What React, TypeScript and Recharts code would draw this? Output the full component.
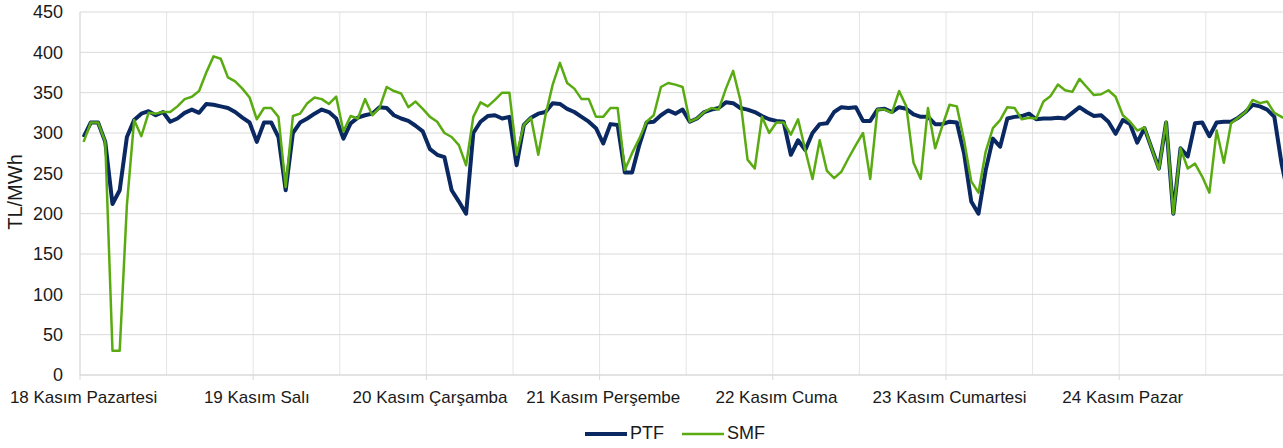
import React from 'react';
import { LineChart, Line, XAxis, YAxis, CartesianGrid } from 'recharts';

const dayLabels = [
  '18 Kasım Pazartesi',
  '19 Kasım Salı',
  '20 Kasım Çarşamba',
  '21 Kasım Perşembe',
  '22 Kasım Cuma',
  '23 Kasım Cumartesi',
  '24 Kasım Pazar',
];

// Hourly PTF values, 18-24 Kasım (TL/MWh)
const ptf = [
  295, 313, 313, 289, 212, 229, 295, 316, 324, 327, 322, 326, 314, 318, 325, 329, 325, 336, 335, 333, 331, 326, 319, 313,
  289, 313, 313, 295, 229, 300, 313, 318, 324, 329, 326, 318, 293, 312, 319, 322, 324, 332, 331, 322, 318, 315, 309, 302,
  280, 273, 270, 229, 215, 200, 300, 314, 321, 322, 318, 320, 260, 310, 319, 324, 326, 337, 336, 330, 326, 320, 314, 306,
  287, 311, 310, 251, 251, 285, 313, 314, 322, 328, 324, 329, 314, 318, 326, 329, 331, 338, 337, 331, 329, 326, 321, 317,
  315, 314, 273, 291, 279, 300, 311, 312, 326, 332, 331, 332, 315, 315, 329, 330, 326, 332, 330, 323, 320, 320, 311, 311,
  314, 313, 275, 215, 200, 254, 293, 283, 318, 320, 321, 324, 317, 318, 318, 319, 318, 325, 332, 326, 321, 322, 314, 299,
  316, 311, 288, 306, 281, 256, 313, 200, 281, 271, 312, 313, 296, 313, 314, 314, 319, 326, 335, 333, 329, 320, 262, 220,
];

// Hourly SMF values, 18-24 Kasım (TL/MWh)
const smf = [
  289, 313, 313, 289, 30, 30, 211, 316, 296, 325, 324, 326, 326, 333, 342, 345, 352, 375, 395, 392, 369, 364, 355, 344,
  317, 331, 331, 320, 233, 321, 324, 337, 344, 342, 336, 345, 302, 321, 318, 342, 322, 331, 357, 352, 349, 332, 339, 330,
  320, 314, 300, 295, 285, 260, 320, 338, 333, 341, 350, 350, 273, 310, 319, 273, 322, 360, 387, 362, 355, 342, 342, 320,
  320, 331, 331, 254, 275, 293, 314, 322, 357, 362, 360, 357, 314, 318, 326, 331, 329, 355, 377, 341, 267, 256, 320, 300,
  313, 313, 298, 317, 279, 243, 291, 253, 244, 252, 269, 285, 300, 243, 329, 329, 325, 352, 333, 263, 243, 331, 281, 309,
  335, 333, 291, 240, 226, 277, 306, 316, 332, 331, 317, 319, 318, 339, 346, 360, 353, 351, 367, 357, 347, 348, 353, 345,
  322, 314, 303, 307, 281, 255, 314, 200, 281, 256, 262, 246, 226, 303, 263, 312, 319, 326, 341, 337, 339, 325, 320, 315,
];

const yTicks = [0, 50, 100, 150, 200, 250, 300, 350, 400, 450];

const seriesDefs = [
  { key: 'PTF', color: '#0a2861', width: 4 },
  { key: 'SMF', color: '#5aab12', width: 2.5 },
];

const HOURS_PER_DAY = 24;
const N = ptf.length;

const data = ptf.map((v, i) => ({
  i,
  day: dayLabels[Math.floor(i / HOURS_PER_DAY)],
  PTF: v,
  SMF: smf[i],
}));

const FONT = '"Liberation Sans", Arial, sans-serif';
const X_FONT = 17;
const Y_FONT = 18;
const LABEL_FONT = 20;
const LEGEND_FONT = 18;
const TEXT_COLOR = '#1a1a1a';

const CHART_W = 1300;
const CHART_H = 448;
const MARGIN = { top: 12, right: 7.6, bottom: 43, left: 20 };
const Y_AXIS_W = 60;
const PLOT_W = CHART_W - MARGIN.left - MARGIN.right - Y_AXIS_W;
const HALF_STEP = PLOT_W / N / 2;

// boundaries every 12 hours (between categories)
const gridTicks = Array.from({ length: N / 12 + 1 }, (_, k) => k * 12 - 0.5);

const DayTick = (props: any) => {
  const { x, y, payload } = props;
  const v = payload.value + 0.5;
  if (v % HOURS_PER_DAY !== 0) return <g />;
  const d = v / HOURS_PER_DAY;
  return (
    <g>
      <line x1={x} y1={y} x2={x} y2={y + 5} stroke="#d9d9d9" strokeWidth={1} />
      {d < dayLabels.length ? (
        <text
          x={x + HALF_STEP}
          y={y + 28}
          textAnchor="middle"
          fontSize={X_FONT}
          fontFamily={FONT}
          fill={TEXT_COLOR}
        >
          {dayLabels[d]}
        </text>
      ) : null}
    </g>
  );
};

const YLabel = () => (
  <text
    x={14.5}
    y={192}
    transform="rotate(-90, 14.5, 192)"
    textAnchor="middle"
    dominantBaseline="central"
    fontSize={LABEL_FONT}
    fontFamily={FONT}
    fill={TEXT_COLOR}
  >
    TL/MWh
  </text>
);

export default function App() {
  return (
    <div
      style={{
        position: 'absolute',
        left: 0,
        top: 0,
        width: 1283,
        height: 448,
        overflow: 'hidden',
        background: '#ffffff',
        fontFamily: FONT,
      }}
    >
      <LineChart width={CHART_W} height={CHART_H} data={data} margin={MARGIN}>
        <CartesianGrid horizontal={false} stroke="#e4e4e4" strokeWidth={1} />
        <CartesianGrid vertical={false} stroke="#d9d9d9" strokeWidth={1} />
        <XAxis
          dataKey="i"
          type="number"
          domain={[-0.5, N - 0.5]}
          ticks={gridTicks}
          interval={0}
          allowDataOverflow
          height={30}
          tickLine={false}
          tickSize={0}
          tickMargin={0}
          axisLine={{ stroke: '#d9d9d9', strokeWidth: 1 }}
          tick={<DayTick />}
        />
        <YAxis
          type="number"
          domain={[0, 450]}
          ticks={yTicks}
          interval={0}
          width={Y_AXIS_W}
          tickLine={false}
          tickSize={0}
          tickMargin={17}
          axisLine={{ stroke: '#d9d9d9', strokeWidth: 1 }}
          tick={{ fontSize: Y_FONT, fontFamily: FONT, fill: TEXT_COLOR }}
          label={<YLabel />}
        />
        {seriesDefs.map((s) => (
          <Line
            key={s.key}
            type="linear"
            dataKey={s.key}
            stroke={s.color}
            strokeWidth={s.width}
            dot={false}
            activeDot={false}
            strokeLinejoin="round"
            isAnimationActive={false}
          />
        ))}
      </LineChart>
      <div
        style={{
          position: 'absolute',
          left: 585,
          top: 423,
          display: 'flex',
          alignItems: 'center',
          fontSize: LEGEND_FONT,
          fontFamily: FONT,
          color: TEXT_COLOR,
          lineHeight: '21px',
        }}
      >
        {seriesDefs.map((s) => (
          <div key={s.key} style={{ display: 'flex', alignItems: 'center', marginRight: 18 }}>
            <svg width={42} height={10} style={{ display: 'block' }}>
              <line x1={0} y1={5} x2={42} y2={5} stroke={s.color} strokeWidth={s.width} />
            </svg>
            <span style={{ marginLeft: 3 }}>{s.key}</span>
          </div>
        ))}
      </div>
    </div>
  );
}
